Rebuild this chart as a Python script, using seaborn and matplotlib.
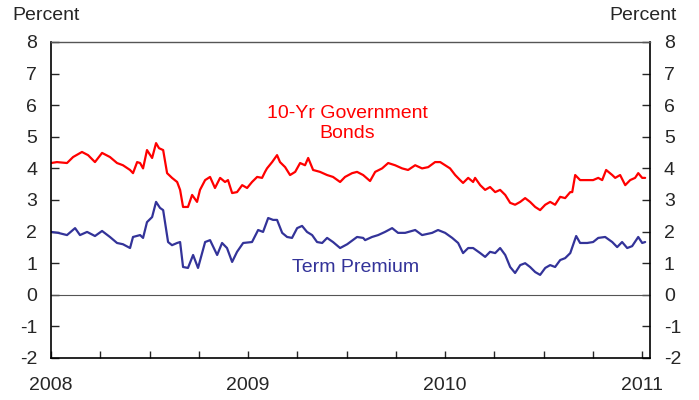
import numpy as np
import pandas as pd
import matplotlib
matplotlib.use('Agg')
import matplotlib.pyplot as plt
from matplotlib.ticker import MultipleLocator
import seaborn as sns

# time in decimal years, values in percent
bond_t = [2008.000, 2008.030, 2008.081, 2008.112, 2008.157, 2008.188, 2008.223, 2008.259, 2008.299,
          2008.335, 2008.365, 2008.401, 2008.416, 2008.437, 2008.452, 2008.467, 2008.487, 2008.513,
          2008.533, 2008.548, 2008.569, 2008.589, 2008.614, 2008.640, 2008.655, 2008.670, 2008.695,
          2008.716, 2008.741, 2008.756, 2008.782, 2008.807, 2008.832, 2008.858, 2008.883, 2008.898,
          2008.919, 2008.944, 2008.970, 2008.995, 2009.020, 2009.046, 2009.071, 2009.086, 2009.096,
          2009.122, 2009.147, 2009.162, 2009.188, 2009.213, 2009.239, 2009.264, 2009.289, 2009.305,
          2009.330, 2009.365, 2009.401, 2009.431, 2009.467, 2009.492, 2009.528, 2009.553, 2009.584,
          2009.619, 2009.645, 2009.680, 2009.711, 2009.746, 2009.782, 2009.812, 2009.848, 2009.883,
          2009.914, 2009.949, 2009.975, 2010.000, 2010.025, 2010.051, 2010.076, 2010.091, 2010.117,
          2010.142, 2010.152, 2010.178, 2010.203, 2010.228, 2010.254, 2010.279, 2010.305, 2010.330,
          2010.355, 2010.381, 2010.406, 2010.431, 2010.457, 2010.482, 2010.508, 2010.533, 2010.558,
          2010.584, 2010.609, 2010.635, 2010.645, 2010.660, 2010.685, 2010.721, 2010.751, 2010.777,
          2010.797, 2010.817, 2010.848, 2010.863, 2010.888, 2010.914, 2010.939, 2010.964, 2010.980,
          2011.000, 2011.015]
bond_v = [4.17, 4.20, 4.17, 4.36, 4.52, 4.42, 4.20, 4.49, 4.36,
          4.17, 4.10, 3.95, 3.85, 4.20, 4.17, 4.00, 4.58, 4.33,
          4.80, 4.64, 4.58, 3.85, 3.70, 3.57, 3.32, 2.78, 2.78,
          3.16, 2.94, 3.32, 3.63, 3.73, 3.38, 3.70, 3.57, 3.63,
          3.22, 3.25, 3.47, 3.38, 3.57, 3.73, 3.70, 3.89, 4.00,
          4.20, 4.42, 4.20, 4.04, 3.79, 3.89, 4.17, 4.10, 4.33,
          3.95, 3.89, 3.79, 3.73, 3.57, 3.73, 3.85, 3.89, 3.79,
          3.60, 3.89, 4.00, 4.17, 4.10, 4.00, 3.95, 4.10, 4.00,
          4.04, 4.20, 4.20, 4.10, 4.00, 3.79, 3.63, 3.54, 3.70,
          3.57, 3.70, 3.47, 3.32, 3.41, 3.25, 3.32, 3.16, 2.91,
          2.85, 2.94, 3.06, 2.94, 2.78, 2.68, 2.85, 2.94, 2.85,
          3.10, 3.06, 3.25, 3.25, 3.79, 3.63, 3.63, 3.63, 3.70,
          3.63, 3.95, 3.79, 3.70, 3.79, 3.47, 3.63, 3.70, 3.85,
          3.70, 3.70]

term_t = [2008.000, 2008.036, 2008.081, 2008.122, 2008.147, 2008.183, 2008.223, 2008.259, 2008.299,
          2008.335, 2008.365, 2008.401, 2008.416, 2008.452, 2008.467, 2008.487, 2008.513, 2008.533,
          2008.553, 2008.569, 2008.594, 2008.614, 2008.640, 2008.655, 2008.670, 2008.695, 2008.721,
          2008.746, 2008.782, 2008.807, 2008.843, 2008.868, 2008.893, 2008.919, 2008.944, 2008.975,
          2009.020, 2009.051, 2009.076, 2009.102, 2009.127, 2009.147, 2009.173, 2009.198, 2009.223,
          2009.249, 2009.274, 2009.299, 2009.325, 2009.350, 2009.376, 2009.401, 2009.431, 2009.467,
          2009.503, 2009.553, 2009.584, 2009.594, 2009.629, 2009.660, 2009.695, 2009.731, 2009.761,
          2009.797, 2009.848, 2009.883, 2009.934, 2009.964, 2010.000, 2010.036, 2010.066, 2010.091,
          2010.117, 2010.142, 2010.178, 2010.203, 2010.228, 2010.254, 2010.279, 2010.305, 2010.330,
          2010.355, 2010.381, 2010.406, 2010.431, 2010.457, 2010.482, 2010.508, 2010.533, 2010.558,
          2010.584, 2010.609, 2010.635, 2010.665, 2010.685, 2010.721, 2010.751, 2010.777, 2010.812,
          2010.848, 2010.873, 2010.898, 2010.924, 2010.949, 2010.980, 2011.000, 2011.015]
term_v = [1.99, 1.96, 1.89, 2.11, 1.89, 1.99, 1.86, 2.02, 1.83,
          1.64, 1.60, 1.48, 1.83, 1.89, 1.80, 2.30, 2.46, 2.94,
          2.75, 2.68, 1.67, 1.57, 1.64, 1.67, 0.88, 0.85, 1.26,
          0.85, 1.67, 1.73, 1.26, 1.64, 1.48, 1.04, 1.36, 1.64,
          1.67, 2.05, 1.99, 2.43, 2.37, 2.37, 1.96, 1.83, 1.80,
          2.11, 2.18, 1.99, 1.89, 1.67, 1.64, 1.80, 1.67, 1.48,
          1.60, 1.83, 1.80, 1.73, 1.83, 1.89, 1.99, 2.11, 1.96,
          1.96, 2.05, 1.89, 1.96, 2.05, 1.96, 1.80, 1.64, 1.32,
          1.48, 1.48, 1.32, 1.20, 1.36, 1.32, 1.48, 1.26, 0.88,
          0.69, 0.94, 1.00, 0.88, 0.72, 0.63, 0.85, 0.94, 0.88,
          1.10, 1.16, 1.32, 1.86, 1.64, 1.64, 1.67, 1.80, 1.83,
          1.67, 1.51, 1.67, 1.48, 1.54, 1.83, 1.64, 1.67]

year_ticks = [2008, 2009, 2010, 2011]

df = pd.concat([
    pd.DataFrame({'t': bond_t, 'v': bond_v, 's': '10-Yr Government Bonds'}),
    pd.DataFrame({'t': term_t, 'v': term_v, 's': 'Term Premium'}),
])

sns.set_style('white')
plt.rcParams['font.family'] = ['Liberation Sans', 'DejaVu Sans']
plt.rcParams['axes.unicode_minus'] = False

fig = plt.figure(figsize=(6.99, 4.0), dpi=100)
ax = fig.add_axes([0.073, 0.105, 0.857, 0.79])

red = '#ff0000'
blue = '#333399'
sns.lineplot(data=df, x='t', y='v', hue='s', palette=[red, blue], linewidth=1.6,
             legend=False, ax=ax, estimator=None, sort=False)

ax.axhline(0, color='#555555', linewidth=0.8, zorder=1)

ax.set_xlim(2008, 2011.04)
ax.set_ylim(-2, 8)
ax.set_xticks(year_ticks)
ax.set_xticklabels([str(y) for y in year_ticks])
ax.xaxis.set_minor_locator(MultipleLocator(0.25))
ax.yaxis.set_major_locator(MultipleLocator(1))
ax.set_xlabel('')
ax.set_ylabel('')

for side in ['left', 'bottom', 'right']:
    ax.spines[side].set_color('black')
    ax.spines[side].set_linewidth(1.2)
ax.spines['top'].set_color('#555555')
ax.spines['top'].set_linewidth(1.0)

ax.tick_params(axis='y', which='both', direction='in', length=6, width=1, labelsize=14,
               left=True, right=True, labelleft=True, labelright=True, pad=10)
ax.tick_params(axis='x', which='both', direction='in', length=5, width=1, labelsize=14,
               bottom=True, pad=14)

fig.text(0.017, 0.962, 'Percent', fontsize=14, ha='left', va='center')
fig.text(0.968, 0.962, 'Percent', fontsize=14, ha='right', va='center')

ax.text(2009.503, 5.42, '10-Yr Government\nBonds', color=red, fontsize=14,
        ha='center', va='center', linespacing=1.2)
ax.text(2009.543, 0.85, 'Term Premium', color=blue, fontsize=14, ha='center', va='center')

fig.savefig('out.png', dpi=100)
